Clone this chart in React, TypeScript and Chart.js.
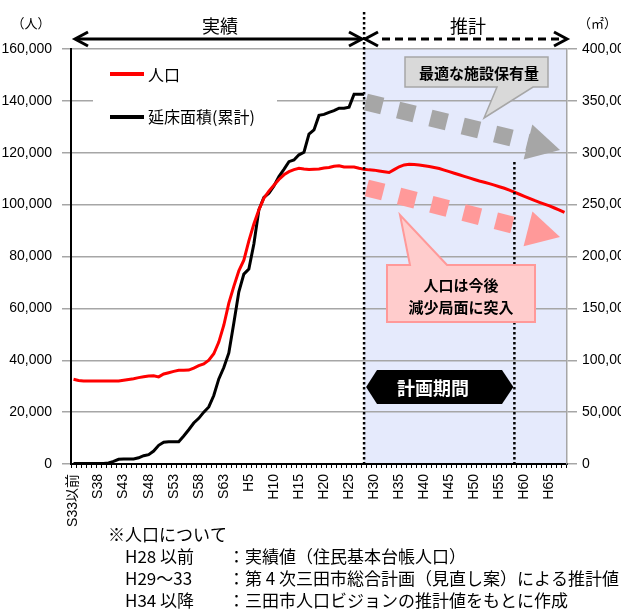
import React, { useEffect, useRef } from 'react';
import { Chart, registerables } from 'chart.js';

Chart.register(...registerables);

const categories = [
  'S33以前', 'S34', 'S35', 'S36', 'S37', 'S38', 'S39', 'S40', 'S41', 'S42',
  'S43', 'S44', 'S45', 'S46', 'S47', 'S48', 'S49', 'S50', 'S51', 'S52',
  'S53', 'S54', 'S55', 'S56', 'S57', 'S58', 'S59', 'S60', 'S61', 'S62',
  'S63', 'H1', 'H2', 'H3', 'H4', 'H5', 'H6', 'H7', 'H8', 'H9',
  'H10', 'H11', 'H12', 'H13', 'H14', 'H15', 'H16', 'H17', 'H18', 'H19',
  'H20', 'H21', 'H22', 'H23', 'H24', 'H25', 'H26', 'H27', 'H28', 'H29',
  'H30', 'H31', 'H32', 'H33', 'H34', 'H35', 'H36', 'H37', 'H38', 'H39',
  'H40', 'H41', 'H42', 'H43', 'H44', 'H45', 'H46', 'H47', 'H48', 'H49',
  'H50', 'H51', 'H52', 'H53', 'H54', 'H55', 'H56', 'H57', 'H58', 'H59',
  'H60', 'H61', 'H62', 'H63', 'H64', 'H65', 'H66', 'H67', 'H68',
];

const shownTicks = [
  'S33以前', 'S38', 'S43', 'S48', 'S53', 'S58', 'S63', 'H5', 'H10', 'H15',
  'H20', 'H25', 'H30', 'H35', 'H40', 'H45', 'H50', 'H55', 'H60', 'H65',
];

// 人口 (left axis, 人)
const population = [
  32700, 32200, 32000, 32000, 32000, 32000, 32000, 32000, 32000, 32000,
  32300, 32600, 32900, 33300, 33600, 33900, 34000, 33600, 34700, 35200,
  35700, 36100, 36100, 36200, 37000, 37900, 38600, 40000, 42500, 47000,
  53500, 62000, 68500, 74500, 78600, 86000, 92500, 98000, 102500, 105200,
  107500, 109700, 111500, 112700, 113500, 114000, 113700, 113500, 113600, 113700,
  114100, 114300, 114800, 115000, 114500, 114500, 114500, 114000, 113600, 113400,
  113300, 113000, 112700, 112400, 113500, 114600, 115300, 115600, 115500, 115300,
  115000, 114700, 114300, 113900, 113300, 112700, 112100, 111500, 110900, 110300,
  109700, 109100, 108600, 108100, 107500, 106900, 106300, 105600, 104800, 104000,
  103200, 102400, 101600, 100900, 100200, 99500, 98700, 97900, 97000,
];

// 延床面積(累計) (right axis, ㎡), S33以前 .. H28
const floorArea = [
  500, 500, 500, 500, 500, 500, 500, 1000, 2500, 4500,
  4800, 4800, 4800, 6000, 8000, 9000, 12500, 18000, 21000, 21500,
  21500, 21500, 27000, 33000, 39500, 44000, 50000, 55000, 66000, 82000,
  93000, 107000, 136000, 166000, 183000, 188000, 212000, 245000, 257000, 261000,
  268000, 277000, 284000, 291400, 293000, 298000, 300500, 318000, 322000, 336000,
  337000, 339000, 340600, 343000, 343000, 344000, 356500, 356500, 356500,
];

const leftTicksMax = 160000;
const leftTicksStep = 20000;
const rightTicksMax = 400000;
const rightTicksStep = 50000;

const estimateStart = 'H28';
const planEnd = 'H58';

const JP = "'Noto Sans CJK JP', 'Liberation Sans', sans-serif";
const NUM = "'Liberation Sans', 'Noto Sans CJK JP', sans-serif";

function squareArrow(ctx: CanvasRenderingContext2D, x0: number, y0: number, x1: number, y1: number, color: string) {
  const dx = x1 - x0, dy = y1 - y0;
  const L = Math.hypot(dx, dy);
  const size = 17, gap = 16.3, headLen = 33, headW = 36;
  ctx.save();
  ctx.translate(x0, y0);
  ctx.rotate(Math.atan2(dy, dx));
  ctx.fillStyle = color;
  const shaftEnd = L - headLen;
  for (let s = 0; s - size / 2 < shaftEnd; s += size + gap) {
    const a = s - size / 2;
    const b = Math.min(s + size / 2, shaftEnd + 1);
    ctx.fillRect(a, -size / 2, b - a, size);
  }
  ctx.beginPath();
  ctx.moveTo(L, 0);
  ctx.lineTo(L - headLen, -headW / 2);
  ctx.lineTo(L - headLen, headW / 2);
  ctx.closePath();
  ctx.fill();
  ctx.restore();
}

const overlay = {
  id: 'overlay',
  beforeDraw(chart: any) {
    const { ctx, chartArea: ca, scales } = chart;
    const xs = scales.x;
    const xStart = xs.getPixelForValue(categories.indexOf(estimateStart));
    ctx.save();
    ctx.fillStyle = '#E5EAFC';
    ctx.fillRect(xStart, ca.top, ca.right - xStart, ca.bottom - ca.top);
    ctx.restore();
  },
  afterDatasetsDraw(chart: any) {
    const { ctx, chartArea: ca, scales } = chart;
    const xs = scales.x;
    const xEst = xs.getPixelForValue(categories.indexOf(estimateStart));
    const xPlan = xs.getPixelForValue(categories.indexOf(planEnd));
    ctx.save();

    // legend box
    ctx.fillStyle = '#FFFFFF';
    ctx.fillRect(93, 52, 184, 84);
    ctx.lineWidth = 4;
    ctx.strokeStyle = '#FF0000';
    ctx.beginPath(); ctx.moveTo(110, 74); ctx.lineTo(144, 74); ctx.stroke();
    ctx.strokeStyle = '#000000';
    ctx.beginPath(); ctx.moveTo(110, 117); ctx.lineTo(144, 117); ctx.stroke();
    ctx.fillStyle = '#000';
    ctx.font = `16px ${JP}`;
    ctx.textAlign = 'left';
    ctx.textBaseline = 'middle';
    ctx.fillText('人口', 148, 75);
    ctx.fillText('延床面積(累計)', 148, 117);

    // dotted vertical lines
    ctx.strokeStyle = '#000';
    ctx.lineWidth = 2.5;
    ctx.setLineDash([2.5, 2.5]);
    ctx.beginPath(); ctx.moveTo(xEst, 12); ctx.lineTo(xEst, ca.bottom); ctx.stroke();
    ctx.beginPath(); ctx.moveTo(xPlan, 162); ctx.lineTo(xPlan, ca.bottom); ctx.stroke();
    ctx.setLineDash([]);

    // dashed square arrows
    squareArrow(ctx, 374, 104, 560, 150, '#A6A6A6');
    squareArrow(ctx, 375, 190, 560, 237, '#FF9999');

    // gray callout
    ctx.beginPath();
    ctx.moveTo(405, 57); ctx.lineTo(548, 57); ctx.lineTo(548, 87); ctx.lineTo(533, 87);
    ctx.lineTo(484, 118); ctx.lineTo(497, 87); ctx.lineTo(405, 87); ctx.closePath();
    ctx.fillStyle = '#D9D9D9';
    ctx.fill();
    ctx.strokeStyle = '#A6A6A6';
    ctx.lineWidth = 1.5;
    ctx.stroke();
    ctx.fillStyle = '#000';
    ctx.font = `bold 15px ${JP}`;
    ctx.textAlign = 'center';
    ctx.fillText('最適な施設保有量', 479, 73);

    // pink callout
    ctx.beginPath();
    ctx.moveTo(387, 265); ctx.lineTo(410, 265); ctx.lineTo(400, 215); ctx.lineTo(447, 265);
    ctx.lineTo(535, 265); ctx.lineTo(535, 322); ctx.lineTo(387, 322); ctx.closePath();
    ctx.fillStyle = '#FFCCCC';
    ctx.fill();
    ctx.strokeStyle = '#FF9999';
    ctx.lineWidth = 2;
    ctx.stroke();
    ctx.fillStyle = '#000';
    ctx.font = `bold 15px ${JP}`;
    ctx.fillText('人口は今後', 461, 285);
    ctx.fillText('減少局面に突入', 461, 307);

    // 計画期間 hexagon
    ctx.beginPath();
    ctx.moveTo(xEst + 2, 387); ctx.lineTo(377, 370); ctx.lineTo(502, 370);
    ctx.lineTo(xPlan - 1, 387); ctx.lineTo(502, 404); ctx.lineTo(377, 404); ctx.closePath();
    ctx.fillStyle = '#000';
    ctx.fill();
    ctx.fillStyle = '#FFF';
    ctx.font = `bold 18px ${JP}`;
    ctx.fillText('計画期間', 433, 388);

    // top arrows
    ctx.strokeStyle = '#000';
    ctx.lineWidth = 3;
    ctx.beginPath(); ctx.moveTo(76, 39); ctx.lineTo(360, 39); ctx.stroke();
    ctx.beginPath(); ctx.moveTo(88, 32); ctx.lineTo(75, 39); ctx.lineTo(88, 46); ctx.stroke();
    ctx.beginPath(); ctx.moveTo(349, 32); ctx.lineTo(362, 39); ctx.lineTo(349, 46); ctx.stroke();
    ctx.setLineDash([8, 5]);
    ctx.beginPath(); ctx.moveTo(382, 39); ctx.lineTo(562, 39); ctx.stroke();
    ctx.setLineDash([]);
    ctx.beginPath(); ctx.moveTo(378, 32); ctx.lineTo(365, 39); ctx.lineTo(378, 46); ctx.stroke();
    ctx.beginPath(); ctx.moveTo(554, 32); ctx.lineTo(567, 39); ctx.lineTo(554, 46); ctx.stroke();

    ctx.fillStyle = '#000';
    ctx.font = `18px ${JP}`;
    ctx.fillText('実績', 220, 26);
    ctx.fillText('推計', 468, 26);
    ctx.font = `13px ${JP}`;
    ctx.fillText('（人）', 31, 23);
    ctx.textAlign = 'left';
    ctx.fillText('（㎡）', 578, 23);

    // footnotes
    ctx.font = `17px ${JP}`;
    ctx.textAlign = 'left';
    ctx.fillText('※人口について', 108, 535);
    ctx.fillText('H28 以前', 125, 557);
    ctx.fillText('H29～33', 125, 579);
    ctx.fillText('H34 以降', 125, 601);
    ctx.fillText('：実績値（住民基本台帳人口）', 228, 557);
    ctx.fillText('：第 4 次三田市総合計画（見直し案）による推計値', 228, 579, 392);
    ctx.fillText('：三田市人口ビジョンの推計値をもとに作成', 228, 601);
    ctx.restore();
  },
};

export default function App() {
  const ref = useRef<HTMLCanvasElement | null>(null);
  useEffect(() => {
    if (!ref.current) return;
    const chart = new Chart(ref.current, {
      type: 'line',
      data: {
        labels: categories,
        datasets: [
          {
            label: '人口',
            data: population,
            borderColor: '#FF0000',
            borderWidth: 3,
            pointRadius: 0,
            tension: 0,
            yAxisID: 'y',
          },
          {
            label: '延床面積(累計)',
            data: floorArea,
            borderColor: '#000000',
            borderWidth: 3,
            pointRadius: 0,
            tension: 0,
            yAxisID: 'y1',
          },
        ],
      },
      options: {
        animation: false,
        responsive: false,
        devicePixelRatio: 1,
        layout: { padding: { top: 49, left: 0, right: 0, bottom: 0 } },
        plugins: { legend: { display: false }, tooltip: { enabled: false } },
        scales: {
          x: {
            type: 'category',
            offset: true,
            afterFit: (s: any) => { s.height = 146; },
            grid: { offset: true, drawOnChartArea: false, drawTicks: true, tickLength: 4, color: '#000', lineWidth: 1 },
            border: { color: '#000', width: 2 },
            ticks: {
              autoSkip: false,
              minRotation: 90,
              maxRotation: 90,
              padding: 6,
              color: '#000',
              font: { family: NUM, size: 14 },
              callback: function (this: any, value: any) {
                const lab = this.getLabelForValue(value);
                return shownTicks.includes(lab) ? lab : '';
              },
            },
          },
          y: {
            position: 'left',
            min: 0,
            max: leftTicksMax,
            afterFit: (s: any) => { s.width = 71; },
            grid: { color: '#A6A6A6', lineWidth: 1.5, tickLength: 9, tickColor: '#A6A6A6' },
            border: { color: '#000', width: 2 },
            ticks: {
              stepSize: leftTicksStep,
              padding: 10,
              color: '#000',
              font: { family: NUM, size: 14 },
              callback: (v: any) => Number(v).toLocaleString('en-US'),
            },
          },
          y1: {
            position: 'right',
            min: 0,
            max: rightTicksMax,
            afterFit: (s: any) => { s.width = 54; },
            grid: { drawOnChartArea: false, tickLength: 10, color: '#A6A6A6', lineWidth: 1.5 },
            border: { color: '#A6A6A6', width: 1.5 },
            ticks: {
              stepSize: rightTicksStep,
              padding: 5,
              color: '#000',
              font: { family: NUM, size: 14 },
              callback: (v: any) => Number(v).toLocaleString('en-US'),
            },
          },
        },
      },
      plugins: [overlay],
    } as any);
    return () => chart.destroy();
  }, []);
  return (
    <div style={{ position: 'absolute', left: 0, top: 0, width: 621, height: 610 }}>
      <canvas ref={ref} width={621} height={610} style={{ display: 'block', width: 621, height: 610 }} />
    </div>
  );
}
